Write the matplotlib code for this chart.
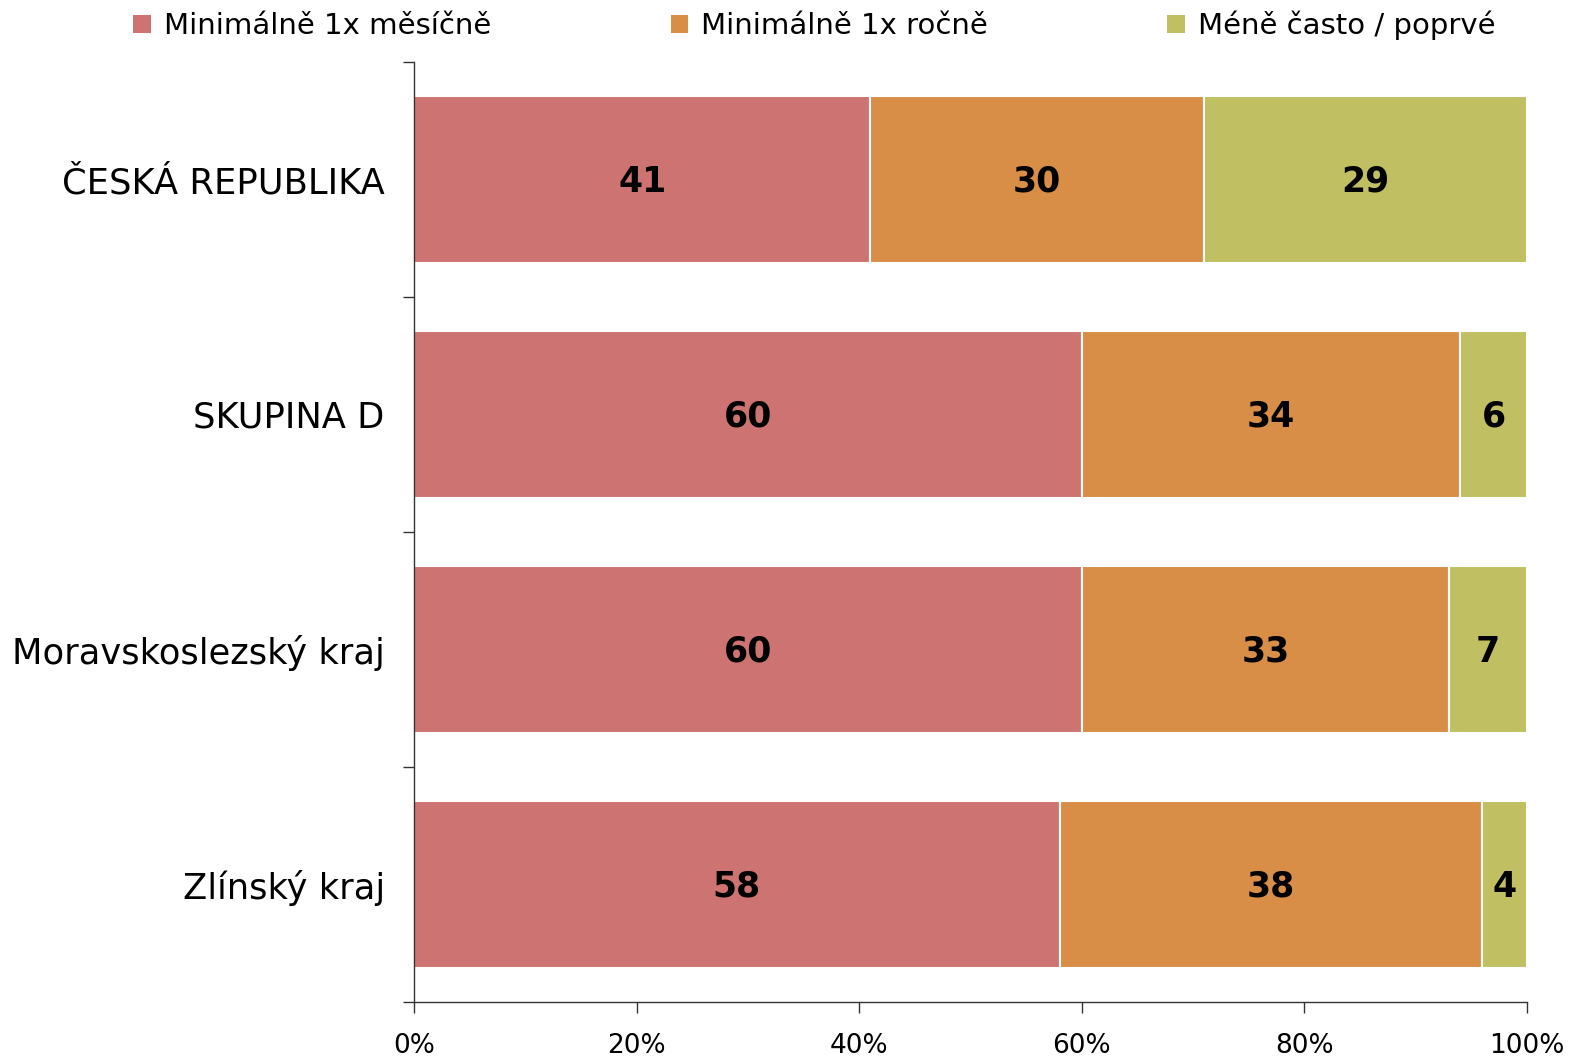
import matplotlib
matplotlib.use("Agg")
import matplotlib.pyplot as plt
from matplotlib.patches import Patch
import numpy as np

categories = ["ČESKÁ REPUBLIKA", "SKUPINA D", "Moravskoslezský kraj", "Zlínský kraj"]
series_names = ["Minimálně 1x měsíčně", "Minimálně 1x ročně", "Méně často / poprvé"]
monthly = [41, 60, 60, 58]
yearly = [30, 34, 33, 38]
rarely = [29, 6, 7, 4]
colors = ["#CD7371", "#D98E48", "#C0C062"]
x_ticks = [0, 20, 40, 60, 80, 100]
x_tick_labels = ["0%", "20%", "40%", "60%", "80%", "100%"]

plt.rcParams["font.family"] = ["DejaVu Sans"]

W, H = 1572, 1056
fig = plt.figure(figsize=(W / 100, H / 100), dpi=100)
ax = fig.add_axes([414 / W, 1 - 1002 / H, (1527 - 414) / W, (1002 - 62) / H])

y = np.arange(len(categories))
left = np.zeros(len(categories))
for vals, name, col in zip([monthly, yearly, rarely], series_names, colors):
    vals = np.array(vals, dtype=float)
    ax.barh(y, vals, left=left, height=0.71, color=col,
            edgecolor="white", linewidth=1.5, label=name)
    for yi, l, v in zip(y, left, vals):
        ax.text(l + v / 2, yi + 0.01, f"{int(v)}", ha="center", va="center",
                fontsize=25, fontweight="bold", color="black")
    left += vals

ax.set_xlim(0, 100)
ax.set_ylim(len(categories) - 0.5, -0.5)
ax.set_xticks(x_ticks)
ax.set_xticklabels(x_tick_labels, fontsize=19)
ax.set_yticks(y)
ax.set_yticklabels(categories, fontsize=25.4)
ax.set_yticks(np.arange(len(categories) + 1) - 0.5, minor=True)
ax.tick_params(axis="y", which="major", length=0, pad=21)
ax.tick_params(axis="y", which="minor", length=8, width=1, color="#333333")
ax.tick_params(axis="x", length=8, width=1, color="#333333", pad=14)
for s in ["top", "right"]:
    ax.spines[s].set_visible(False)
for s in ["left", "bottom"]:
    ax.spines[s].set_color("#333333")
    ax.spines[s].set_linewidth(1)

handles = [Patch(facecolor=c, edgecolor="none") for c in colors]
fig.legend(handles, series_names, loc="upper left", bbox_to_anchor=(110 / W, 1.012),
           ncol=3, frameon=False, fontsize=21, handlelength=0.6, handleheight=0.6,
           handletextpad=0.45, columnspacing=6.15, borderpad=0.3)

fig.savefig("out.png", dpi=100)
